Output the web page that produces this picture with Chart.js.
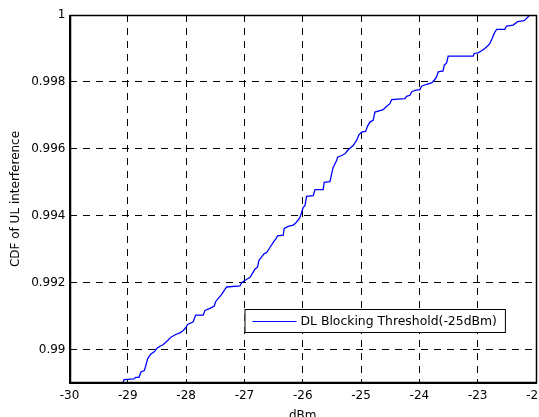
<!DOCTYPE html>
<html>
<head>
<meta charset="utf-8">
<script src="https://cdn.jsdelivr.net/npm/chart.js@4.4.0/dist/chart.umd.min.js"></script>
<style>
    html, body { margin: 0; padding: 0; background: #fff; }
</style>
</head>
<body>
<canvas id="cdfChart" width="539" height="417"></canvas>
<script>
// CDF curve (dBm, cumulative probability)
const dbm = [
    -29.095, -29.066, -28.894, -28.865, -28.809, -28.774, -28.718, -28.694, -28.659, -28.603,
    -28.546, -28.505, -28.448, -28.392, -28.316, -28.260, -28.179, -28.106, -28.049, -28.008,
    -27.974, -27.878, -27.836, -27.706, -27.677, -27.591, -27.518, -27.494, -27.437, -27.391,
    -27.346, -27.305, -27.077, -27.048, -26.962, -26.906, -26.866, -26.820, -26.774, -26.751,
    -26.705, -26.660, -26.619, -26.563, -26.506, -26.465, -26.431, -26.335, -26.318, -26.249,
    -26.163, -26.122, -26.088, -26.048, -26.019, -25.992, -25.963, -25.933, -25.820, -25.791,
    -25.649, -25.632, -25.534, -25.505, -25.477, -25.419, -25.402, -25.333, -25.277, -25.231,
    -25.191, -25.135, -25.105, -25.076, -25.037, -24.991, -24.922, -24.888, -24.848, -24.792,
    -24.763, -24.620, -24.574, -24.505, -24.476, -24.248, -24.219, -24.163, -24.133, -24.077,
    -23.991, -23.962, -23.876, -23.790, -23.746, -23.705, -23.677, -23.592, -23.574, -23.533,
    -23.506, -23.077, -23.060, -22.992, -22.933, -22.877, -22.830, -22.791, -22.752, -22.717,
    -22.676, -22.534, -22.505, -22.392, -22.316, -22.203, -22.162, -22.122, -22.105, -22.000
];
const cdf = [
    0.98893, 0.98910, 0.98912, 0.98917, 0.98917, 0.98933, 0.98937, 0.98950, 0.98973, 0.98987,
    0.98993, 0.99003, 0.99010, 0.99015, 0.99027, 0.99037, 0.99045, 0.99050, 0.99057, 0.99065,
    0.99075, 0.99083, 0.99103, 0.99103, 0.99117, 0.99123, 0.99130, 0.99143, 0.99155, 0.99165,
    0.99177, 0.99187, 0.99190, 0.99200, 0.99210, 0.99215, 0.99227, 0.99240, 0.99247, 0.99267,
    0.99277, 0.99287, 0.99290, 0.99305, 0.99320, 0.99330, 0.99340, 0.99342, 0.99362, 0.99368,
    0.99372, 0.99378, 0.99385, 0.99395, 0.99410, 0.99425, 0.99430, 0.99458, 0.99460, 0.99478,
    0.99478, 0.99500, 0.99502, 0.99525, 0.99545, 0.99565, 0.99575, 0.99580, 0.99585, 0.99595,
    0.99602, 0.99610, 0.99618, 0.99625, 0.99642, 0.99650, 0.99652, 0.99668, 0.99680, 0.99685,
    0.99710, 0.99717, 0.99725, 0.99735, 0.99747, 0.99750, 0.99757, 0.99760, 0.99770, 0.99775,
    0.99777, 0.99787, 0.99793, 0.99797, 0.99805, 0.99815, 0.99830, 0.99833, 0.99850, 0.99857,
    0.99877, 0.99877, 0.99885, 0.99887, 0.99893, 0.99900, 0.99907, 0.99915, 0.99930, 0.99945,
    0.99957, 0.99957, 0.99967, 0.99970, 0.99980, 0.99983, 0.99990, 0.99997, 1.00000, 1.00000
];

const xTicks = [-30, -29, -28, -27, -26, -25, -24, -23, -22];
const yTicks = [0.99, 0.992, 0.994, 0.996, 0.998, 1];
const yTickLabels = ['0.99', '0.992', '0.994', '0.996', '0.998', '1'];
const seriesLabel = 'DL Blocking Threshold(-25dBm)';
const xTitle = 'dBm';
const yTitle = 'CDF of UL interference';

const FONT = 'DejaVu Sans';
const gridStyle = { color: '#000', lineWidth: 1, drawTicks: false };
const dash = [7, 6];

// matlab style box around the axes
const framePlugin = {
    id: 'frame',
    afterDatasetsDraw(chart) {
        const { ctx, chartArea: a } = chart;
        ctx.save();
        ctx.strokeStyle = '#000';
        ctx.lineWidth = 1.5;
        ctx.strokeRect(Math.round(a.left) + 0.5, Math.round(a.top) + 0.5,
            Math.round(a.right - a.left) - 1, Math.round(a.bottom - a.top) - 1);
        ctx.restore();
    }
};

// legend box sitting inside the plot, lower right
const insideLegend = {
    id: 'insideLegend',
    afterDraw(chart) {
        const { ctx, chartArea: a } = chart;
        const ds = chart.data.datasets[0];
        const left = a.left + 175;
        const top = a.top + 294;
        const h = 23;
        ctx.save();
        ctx.font = `12.4px "${FONT}"`;
        const textW = ctx.measureText(ds.label).width;
        const w = 56 + textW + 8;
        ctx.fillStyle = '#fff';
        ctx.fillRect(left, top, w, h);
        ctx.strokeStyle = '#000';
        ctx.lineWidth = 1;
        ctx.strokeRect(left + 0.5, top + 0.5, w, h);
        ctx.strokeStyle = ds.borderColor;
        ctx.lineWidth = 1.2;
        ctx.beginPath();
        ctx.moveTo(left + 8, top + 12.5);
        ctx.lineTo(left + 52, top + 12.5);
        ctx.stroke();
        ctx.fillStyle = '#000';
        ctx.textBaseline = 'middle';
        ctx.fillText(ds.label, left + 56, top + 12.5);
        ctx.restore();
    }
};

new Chart(document.getElementById('cdfChart'), {
    type: 'line',
    data: {
        datasets: [{
            label: seriesLabel,
            data: dbm.map((x, i) => ({ x, y: cdf[i] })),
            borderColor: '#0000ff',
            borderWidth: 1.3,
            pointRadius: 0,
            tension: 0,
            fill: false
        }]
    },
    options: {
        responsive: false,
        devicePixelRatio: 1,
        animation: false,
        layout: { padding: { left: 0, right: 3, top: 15, bottom: 0 } },
        plugins: { legend: { display: false }, tooltip: { enabled: false } },
        scales: {
            x: {
                type: 'linear',
                min: -30,
                max: -22,
                afterBuildTicks: s => { s.ticks = xTicks.map(v => ({ value: v })); },
                afterFit: s => { s.height = 34; s.paddingLeft = 0; s.paddingRight = 0; },
                ticks: { color: '#000', padding: 6, font: { family: FONT, size: 12 }, callback: v => String(v) },
                grid: gridStyle,
                border: { display: true, color: '#000', dash: dash, width: 1 },
                title: { display: true, text: xTitle, color: '#000', font: { family: FONT, size: 12 }, padding: { top: 0, bottom: -6 } }
            },
            y: {
                type: 'linear',
                min: 0.989,
                max: 1,
                afterBuildTicks: s => { s.ticks = yTicks.map(v => ({ value: v })); },
                afterFit: s => { s.width = 69.5; s.paddingTop = 0; s.paddingBottom = 0; },
                ticks: {
                    color: '#000', padding: 4, font: { family: FONT, size: 12 },
                    callback: v => {
                        const i = yTicks.findIndex(t => Math.abs(t - v) < 1e-9);
                        return i >= 0 ? yTickLabels[i] : '';
                    }
                },
                grid: gridStyle,
                border: { display: true, color: '#000', dash: dash, width: 1 },
                title: { display: true, text: yTitle, color: '#000', font: { family: FONT, size: 12 }, padding: { top: 9, bottom: 0 } }
            }
        }
    },
    plugins: [framePlugin, insideLegend]
});
</script>
</body>
</html>
